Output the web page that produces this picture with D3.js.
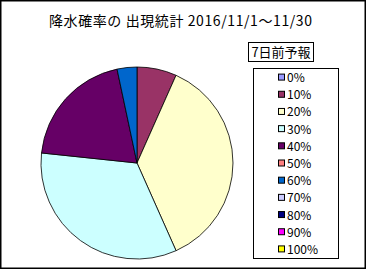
<!DOCTYPE html>
<html>
<head>
<meta charset="utf-8">
<script src="https://cdn.jsdelivr.net/npm/d3@7"></script>
<style>
  body { margin: 0; background: #fff; }
  text { font-family: "Noto Sans CJK JP", "DejaVu Sans", sans-serif; }
</style>
</head>
<body>
<div id="wrapper"></div>
<script>
const titleText = "降水確率の 出現統計 2016/11/1～11/30";
const legendTitle = "7日前予報";
const categories = ["0%", "10%", "20%", "30%", "40%", "50%", "60%", "70%", "80%", "90%", "100%"];
const days = [0, 2, 11, 10, 6, 0, 1, 0, 0, 0, 0];
const colors = ["#9999ff", "#993366", "#ffffcc", "#ccffff", "#660066", "#ff8080",
                "#0066cc", "#ccccff", "#000080", "#ff00ff", "#ffff00"];

const width = 367;
const height = 270;

const svg = d3.select("#wrapper")
    .append("svg")
    .attr("width", width)
    .attr("height", height);

// outer frame
svg.append("rect")
    .attr("x", 0.75).attr("y", 0.75)
    .attr("width", 364.5).attr("height", 267.5)
    .attr("fill", "#fff")
    .attr("stroke", "#000")
    .attr("stroke-width", 1.5);

svg.append("text")
    .attr("x", 49)
    .attr("y", 26)
    .attr("textLength", 263)
    .attr("lengthAdjust", "spacing")
    .style("font-size", "14px")
    .text(titleText);

// pie
const color = d3.scaleOrdinal().domain(categories).range(colors);
const pie = d3.pie().sort(null).value(d => d.v);
const arc = d3.arc().innerRadius(0).outerRadius(96);
const data = categories.map((c, i) => ({ c: c, v: days[i] }));

svg.append("g")
    .attr("transform", "translate(137,163)")
    .selectAll("path")
    .data(pie(data).filter(d => d.value > 0))
    .enter()
    .append("path")
    .attr("d", arc)
    .attr("fill", d => color(d.data.c))
    .attr("stroke", "#000")
    .attr("stroke-width", 0.8);

// legend title box
svg.append("rect")
    .attr("x", 248.5).attr("y", 42.5)
    .attr("width", 65).attr("height", 19)
    .attr("fill", "#fff").attr("stroke", "#000");
svg.append("text")
    .attr("x", 281)
    .attr("y", 57)
    .attr("text-anchor", "middle")
    .style("font-size", "13px")
    .text(legendTitle);

// legend
svg.append("rect")
    .attr("x", 253.5).attr("y", 68.5)
    .attr("width", 85).attr("height", 190)
    .attr("fill", "#fff").attr("stroke", "#000");

const ly = d3.scaleBand().domain(categories).range([69, 258]);

const items = svg.append("g")
    .selectAll("g")
    .data(categories)
    .enter()
    .append("g")
    .attr("transform", d => `translate(0,${ly(d) + ly.bandwidth() / 2})`);

items.append("rect")
    .attr("x", 278.5).attr("y", -3.5)
    .attr("width", 6).attr("height", 6)
    .attr("fill", d => color(d))
    .attr("stroke", "#000");

items.append("text")
    .attr("x", 287)
    .attr("y", 4.5)
    .style("font-size", "12px")
    .text(d => d);
</script>
</body>
</html>
